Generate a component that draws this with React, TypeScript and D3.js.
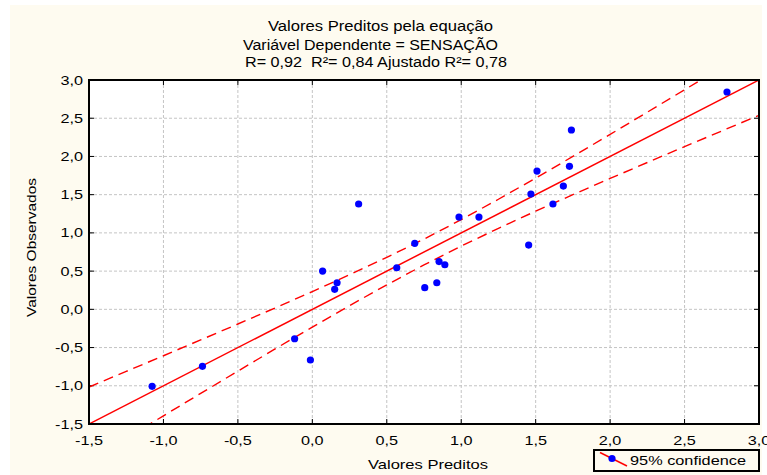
import React from 'react';
import * as d3 from 'd3';

const predicted = [-1.076, -0.738, -0.119, -0.013, 0.069, 0.166, 0.150, 0.311, 0.567, 0.688, 0.755, 0.836, 0.851, 0.890, 0.985, 1.119, 1.453, 1.468, 1.509, 1.616, 1.686, 1.727, 1.740, 2.785];
const observed = [-1.007, -0.746, -0.385, -0.663, 0.501, 0.348, 0.262, 1.378, 0.544, 0.863, 0.283, 0.348, 0.625, 0.583, 1.207, 1.207, 0.841, 1.508, 1.809, 1.378, 1.613, 1.871, 2.346, 2.843];

const bandX = [-1.5, -1.25, -1.0, -0.75, -0.5, -0.25, 0, 0.25, 0.5, 0.75, 1.0, 1.25, 1.5, 1.75, 2.0, 2.25, 2.5, 2.75, 3.0];
const bandUpper = [-1.016, -0.812, -0.607, -0.400, -0.192, 0.018, 0.232, 0.452, 0.680, 0.919, 1.173, 1.440, 1.716, 2.000, 2.288, 2.579, 2.872, 3.167, 3.462];
const bandLower = [-1.984, -1.688, -1.393, -1.100, -0.808, -0.518, -0.232, 0.049, 0.320, 0.581, 0.827, 1.060, 1.284, 1.500, 1.712, 1.921, 2.128, 2.333, 2.538];

const fitX = [-1.5, 3.0];
const fitY = [-1.5, 3.0];

const xTicks = [-1.5, -1.0, -0.5, 0, 0.5, 1.0, 1.5, 2.0, 2.5, 3.0];
const yTicks = [-1.5, -1.0, -0.5, 0, 0.5, 1.0, 1.5, 2.0, 2.5, 3.0];

const titleLines = [
  'Valores Preditos pela equação',
  'Variável Dependente = SENSAÇÃO',
  'R= 0,92  R²= 0,84 Ajustado R²= 0,78',
];
const xLabel = 'Valores Preditos';
const yLabel = 'Valores Observados';
const legendLabel = '95% confidence';

const FONT = '"Liberation Sans", Arial, Helvetica, sans-serif';
const CREAM = '#FEFBF0';

const fmt = (v: number) => d3.format('.1f')(v).replace('.', ',').replace('−', '-');

export default function App() {
  const W = 767, H = 475;
  const x = d3.scaleLinear().domain([-1.5, 3.0]).range([89, 759]);
  const y = d3.scaleLinear().domain([-1.5, 3.0]).range([424, 80]);
  const [x0, x1] = x.range();
  const [y0, y1] = y.range();

  const line = d3.line<[number, number]>().x(d => x(d[0])).y(d => y(d[1]));
  const upperPath = line(bandX.map((v, i) => [v, bandUpper[i]] as [number, number])) || '';
  const lowerPath = line(bandX.map((v, i) => [v, bandLower[i]] as [number, number])) || '';
  const fitPath = line(fitX.map((v, i) => [v, fitY[i]] as [number, number])) || '';

  const titleLayout = [
    { x: 268, y: 31, len: 225, size: 14 },
    { x: 243, y: 50, len: 255, size: 14 },
    { x: 245, y: 67, len: 262, size: 14 },
  ];

  return (
    <svg width={W} height={H} style={{ position: 'absolute', left: 0, top: 0 }} fontFamily={FONT}>
      <defs>
        <clipPath id="plotClip">
          <rect x={x0} y={y1} width={x1 - x0} height={y0 - y1} />
        </clipPath>
      </defs>
      <rect x={0} y={0} width={W} height={H} fill="#ffffff" />
      <rect x={10} y={5} width={752} height={H - 5} fill={CREAM} />

      {titleLines.map((t, i) => (
        <text key={i} x={titleLayout[i].x} y={titleLayout[i].y} fontSize={titleLayout[i].size}
          textLength={titleLayout[i].len} lengthAdjust="spacingAndGlyphs" fill="#000"
          style={{ whiteSpace: 'pre' }}>{t}</text>
      ))}

      <rect x={x0} y={y1} width={x1 - x0} height={y0 - y1} fill="#ffffff" />

      {xTicks.slice(1, -1).map((t, i) => (
        <line key={'gx' + i} x1={x(t)} x2={x(t)} y1={y1} y2={y0} stroke="#c4c4c4" strokeWidth={1} strokeDasharray="3,2" />
      ))}
      {yTicks.slice(1, -1).map((t, i) => (
        <line key={'gy' + i} x1={x0} x2={x1} y1={y(t)} y2={y(t)} stroke="#c4c4c4" strokeWidth={1} strokeDasharray="3,2" />
      ))}

      {xTicks.map((t, i) => (
        <g key={'tx' + i}>
          <line x1={x(t)} x2={x(t)} y1={y0} y2={y0 - 5} stroke="#000" strokeWidth={1} />
          <line x1={x(t)} x2={x(t)} y1={y1} y2={y1 + 5} stroke="#000" strokeWidth={1} />
        </g>
      ))}
      {yTicks.map((t, i) => (
        <g key={'ty' + i}>
          <line x1={x0} x2={x0 + 5} y1={y(t)} y2={y(t)} stroke="#000" strokeWidth={1} />
          <line x1={x1} x2={x1 - 5} y1={y(t)} y2={y(t)} stroke="#000" strokeWidth={1} />
        </g>
      ))}

      <g clipPath="url(#plotClip)">
        <path d={upperPath} fill="none" stroke="#ff0000" strokeWidth={1.4} strokeDasharray="10,6" />
        <path d={lowerPath} fill="none" stroke="#ff0000" strokeWidth={1.4} strokeDasharray="10,6" />
        <path d={fitPath} fill="none" stroke="#ff0000" strokeWidth={1.5} />
        {predicted.map((p, i) => (
          <circle key={'pt' + i} cx={x(p)} cy={y(observed[i])} r={3.6} fill="#0000ff" />
        ))}
      </g>

      <rect x={x0} y={y1} width={x1 - x0} height={y0 - y1} fill="none" stroke="#000" strokeWidth={2} />

      {xTicks.map((t, i) => (
        <g key={'lx' + i} transform={`translate(${x(t)},445) scale(1.3,1)`}>
          <text x={0} y={0} textAnchor="middle" fontSize={12.5} fill="#000">{fmt(t)}</text>
        </g>
      ))}
      {yTicks.map((t, i) => (
        <g key={'ly' + i} transform={`translate(83,${y(t) + 4.5}) scale(1.3,1)`}>
          <text x={0} y={0} textAnchor="end" fontSize={12.5} fill="#000">{fmt(t)}</text>
        </g>
      ))}

      <text x={368} y={469} fontSize={13.5} textLength={120} lengthAdjust="spacingAndGlyphs" fill="#000">{xLabel}</text>
      <text transform="translate(36,317) rotate(-90)" x={0} y={0} fontSize={13.5} textLength={139} lengthAdjust="spacingAndGlyphs" fill="#000">{yLabel}</text>

      <rect x={594} y={450} width={165} height={21} fill={CREAM} stroke="#000" strokeWidth={2} />
      <line x1={600} y1={452.5} x2={627} y2={466} stroke="#ff0000" strokeWidth={1.5} />
      <circle cx={612} cy={458.5} r={3.6} fill="#0000ff" />
      <text x={630} y={465} fontSize={13.5} textLength={116} lengthAdjust="spacingAndGlyphs" fill="#000">{legendLabel}</text>
    </svg>
  );
}
